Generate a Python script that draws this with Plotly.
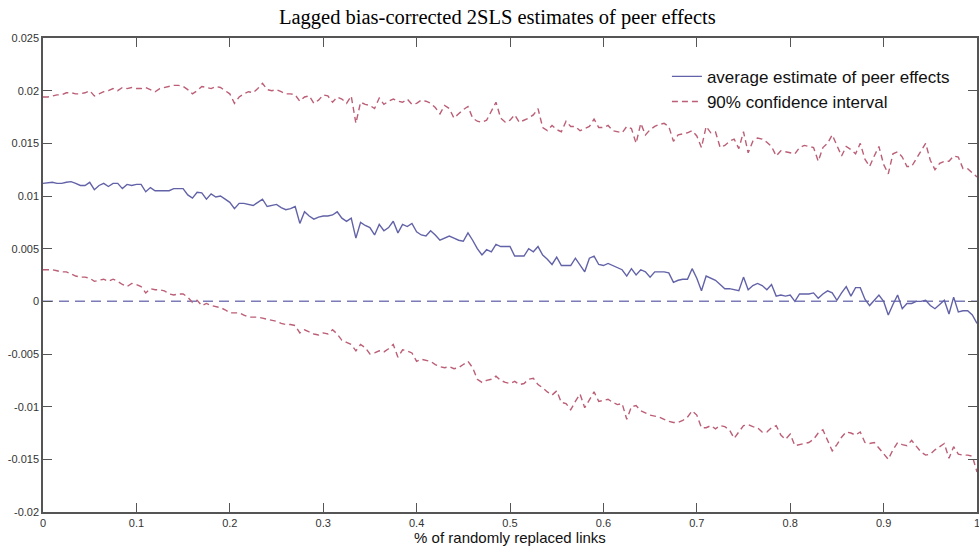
import numpy as np
import plotly.graph_objects as go

# x grid: share of randomly replaced links (0 to 1, step 0.005)
x_share = [round(0.005 * i, 3) for i in range(201)]

avg_estimate = [
    0.0112, 0.01124, 0.0113, 0.0112, 0.0112, 0.0113, 0.01136, 0.0112, 0.0110, 0.0110,
    0.0113, 0.0106, 0.0110, 0.0112, 0.0109, 0.0112, 0.0112, 0.0107, 0.0111, 0.0110,
    0.0111, 0.0111, 0.0104, 0.0108, 0.0105, 0.0105, 0.0105, 0.0105, 0.0107, 0.0107,
    0.0107, 0.0101, 0.0098, 0.01035, 0.0103, 0.0097, 0.0102, 0.0099, 0.0100, 0.0097,
    0.0094, 0.0088, 0.0093, 0.0093, 0.0092, 0.0091, 0.0094, 0.0097, 0.0090, 0.0091,
    0.0092, 0.0089, 0.0087, 0.0088, 0.0090, 0.0074, 0.0085, 0.0081, 0.0078, 0.0080,
    0.0081, 0.0081, 0.0082, 0.0085, 0.0079, 0.0076, 0.0079, 0.0060, 0.0075, 0.0072,
    0.0070, 0.0063, 0.0073, 0.0067, 0.0070, 0.0076, 0.0065, 0.0073, 0.0071, 0.0074,
    0.0066, 0.0063, 0.0062, 0.0067, 0.0063, 0.0058, 0.0060, 0.0062, 0.0060, 0.0058,
    0.0057, 0.0065, 0.0058, 0.0050, 0.0044, 0.0049, 0.0047, 0.0054, 0.0052, 0.0052,
    0.0052, 0.0043, 0.0043, 0.0043, 0.0050, 0.0047, 0.0052, 0.0044, 0.0040, 0.0035,
    0.0042, 0.0034, 0.0034, 0.0034, 0.0041, 0.0034, 0.0028, 0.0041, 0.0043, 0.0035,
    0.0034, 0.0036, 0.0034, 0.0032, 0.0030, 0.0024, 0.0031, 0.0025, 0.0030, 0.0028,
    0.0023, 0.0028, 0.0028, 0.0028, 0.0027, 0.0018, 0.0020, 0.0021, 0.0021, 0.0031,
    0.0022, 0.0010, 0.0024, 0.0022, 0.0020, 0.0016, 0.0012, 0.0012, 0.0011, 0.0010,
    0.0023, 0.0011, 0.0015, 0.0017, 0.0015, 0.0011, 0.0016, 0.0005, 0.0006, 0.0005,
    0.0006, 0.0000, 0.0007, 0.0007, 0.0007, 0.0008, 0.0003, 0.0007, 0.0010, 0.0008,
    0.0001, 0.0008, 0.0014, 0.0005, 0.0013, 0.0013, 0.0002, -0.0004, 0.0001, 0.0006,
    0.0000, -0.0013, -0.0003, 0.0006, -0.0007, -0.0002, -0.0002, 0.0000, 0.0000, 0.0001,
    -0.0004, -0.0007, -0.0003, 0.0001, -0.0012, 0.0004, -0.0010, -0.0009, -0.0009, -0.0013,
    -0.0021,
]

ci_upper = [
    0.0194, 0.0194, 0.0195, 0.0196, 0.0196, 0.0198, 0.0198, 0.0197, 0.0197, 0.0198,
    0.0200, 0.0195, 0.0197, 0.0199, 0.0200, 0.0202, 0.0200, 0.0203, 0.0202, 0.0203,
    0.0202, 0.0202, 0.0203, 0.0201, 0.0199, 0.0202, 0.0203, 0.0204, 0.0205, 0.0205,
    0.0204, 0.0201, 0.0197, 0.0200, 0.0204, 0.0203, 0.0202, 0.0204, 0.0203, 0.0200,
    0.0197, 0.0188, 0.0194, 0.0197, 0.0199, 0.0198, 0.0202, 0.0207, 0.0201, 0.0200,
    0.0201, 0.0199, 0.0197, 0.0197, 0.0196, 0.0190, 0.0194, 0.0195, 0.0188, 0.0191,
    0.0196, 0.0195, 0.0189, 0.0194, 0.0192, 0.0188, 0.0195, 0.0169, 0.0189, 0.0187,
    0.0186, 0.0183, 0.0193, 0.0187, 0.0190, 0.0192, 0.0190, 0.0189, 0.0192, 0.0187,
    0.0188, 0.0191, 0.0190, 0.0188, 0.0184, 0.0178, 0.0186, 0.0183, 0.0174, 0.0178,
    0.0182, 0.0185, 0.0174, 0.0171, 0.0170, 0.0172, 0.0180, 0.0189, 0.0174, 0.0170,
    0.0172, 0.0177, 0.0170, 0.0172, 0.0174, 0.0177, 0.0183, 0.0165, 0.0162, 0.0167,
    0.0163, 0.0161, 0.0171, 0.0166, 0.0166, 0.0162, 0.0164, 0.0166, 0.0173, 0.0165,
    0.0165, 0.0167, 0.0162, 0.0161, 0.0160, 0.0166, 0.0164, 0.0150, 0.0169, 0.0158,
    0.0163, 0.0166, 0.0168, 0.0169, 0.0166, 0.0152, 0.0158, 0.0159, 0.0160, 0.0162,
    0.0157, 0.0146, 0.0166, 0.0160, 0.0161, 0.0146, 0.0148, 0.0152, 0.0154, 0.0145,
    0.0161, 0.0141, 0.0152, 0.0155, 0.0154, 0.0151, 0.0147, 0.0138, 0.0143, 0.0142,
    0.0141, 0.0140, 0.0146, 0.0148, 0.0147, 0.0146, 0.0133, 0.0146, 0.0150, 0.0158,
    0.0148, 0.0138, 0.0147, 0.0144, 0.0140, 0.0150, 0.0135, 0.0128, 0.0138, 0.0147,
    0.0130, 0.0121, 0.0140, 0.0142, 0.0137, 0.0128, 0.0128, 0.0135, 0.0142, 0.0150,
    0.0134, 0.0125, 0.0131, 0.0133, 0.0133, 0.0138, 0.0137, 0.0126, 0.0126, 0.0122,
    0.0118,
]

ci_lower = [
    0.0030, 0.0030, 0.0030, 0.0029, 0.0028, 0.0028, 0.0026, 0.0024, 0.0023, 0.0023,
    0.0022, 0.0019, 0.0020, 0.0021, 0.0019, 0.0021, 0.0019, 0.0016, 0.0014, 0.0017,
    0.0016, 0.0014, 0.0008, 0.0012, 0.0011, 0.0011, 0.0010, 0.0007, 0.0006, 0.0007,
    0.0007, 0.0004, -0.0001, 0.0001, -0.0004, -0.0002, -0.0004, -0.0005, -0.0006, -0.0008,
    -0.0011, -0.0011, -0.0011, -0.0013, -0.0015, -0.0015, -0.0015, -0.0016, -0.0017, -0.0018,
    -0.0019, -0.0021, -0.0022, -0.0022, -0.0023, -0.0030, -0.0027, -0.0029, -0.0031, -0.0032,
    -0.0030, -0.0031, -0.0027, -0.0031, -0.0037, -0.0039, -0.0041, -0.0047, -0.0041, -0.0044,
    -0.0050, -0.0049, -0.0047, -0.0048, -0.0045, -0.0041, -0.0053, -0.0046, -0.0047, -0.0049,
    -0.0057, -0.0055, -0.0056, -0.0057, -0.0060, -0.0062, -0.0063, -0.0062, -0.0064, -0.0063,
    -0.0060, -0.0057, -0.0063, -0.0074, -0.0077, -0.0075, -0.0074, -0.0071, -0.0075, -0.0077,
    -0.0078, -0.0076, -0.0079, -0.0078, -0.0074, -0.0073, -0.0079, -0.0082, -0.0086, -0.0089,
    -0.0085, -0.0096, -0.0097, -0.0103, -0.0095, -0.0088, -0.0101, -0.0094, -0.0086, -0.0095,
    -0.0094, -0.0093, -0.0096, -0.0098, -0.0097, -0.0112, -0.0100, -0.0099, -0.0104, -0.0106,
    -0.0108, -0.0109, -0.0110, -0.0112, -0.0114, -0.0115, -0.0115, -0.0113, -0.0110, -0.0104,
    -0.0108, -0.0120, -0.0120, -0.0118, -0.0121, -0.0118, -0.0119, -0.0122, -0.0130, -0.0124,
    -0.0118, -0.0117, -0.0119, -0.0120, -0.0124, -0.0124, -0.0120, -0.0118, -0.0127, -0.0131,
    -0.0126, -0.0137, -0.0136, -0.0135, -0.0134, -0.0131, -0.0125, -0.0122, -0.0132, -0.0142,
    -0.0136, -0.0129, -0.0124, -0.0125, -0.0127, -0.0124, -0.0134, -0.0135, -0.0134, -0.0139,
    -0.0144, -0.0150, -0.0141, -0.0134, -0.0136, -0.0137, -0.0132, -0.0138, -0.0143, -0.0146,
    -0.0145, -0.0141, -0.0138, -0.0135, -0.0149, -0.0138, -0.0145, -0.0146, -0.0146, -0.0147,
    -0.0162,
]

x_tickvals = [0, 0.1, 0.2, 0.3, 0.4, 0.5, 0.6, 0.7, 0.8, 0.9, 1]
x_ticktext = ["0", "0.1", "0.2", "0.3", "0.4", "0.5", "0.6", "0.7", "0.8", "0.9", "1"]
y_tickvals = [0.025, 0.02, 0.015, 0.01, 0.005, 0, -0.005, -0.01, -0.015, -0.02]
y_ticktext = ["0.025", "0.02", "0.015", "0.01", "0.005", "0", "-0.005", "-0.01", "-0.015", "-0.02"]

BLUE = "#6262a8"
RED = "#bb5e76"
ZERO = "#7b7bb8"
AXIS = "#555555"

fig = go.Figure()
fig.add_hline(y=0, line=dict(color=ZERO, width=1.5, dash="10px,6px"), layer="below")
fig.add_trace(go.Scatter(x=x_share, y=avg_estimate, mode="lines",
                         name="average estimate of peer effects",
                         line=dict(color=BLUE, width=1.4)))
fig.add_trace(go.Scatter(x=x_share, y=ci_upper, mode="lines",
                         name="90% confidence interval",
                         line=dict(color=RED, width=1.4, dash="6px,4px")))
fig.add_trace(go.Scatter(x=x_share, y=ci_lower, mode="lines",
                         name="90% confidence interval", showlegend=False,
                         line=dict(color=RED, width=1.4, dash="6px,4px")))

axis_common = dict(showgrid=False, zeroline=False, showline=True, linecolor=AXIS,
                   linewidth=1.5, ticks="inside", ticklen=9, tickwidth=1.3,
                   tickcolor=AXIS, mirror="ticks", automargin=False,
                   ticklabeloverflow="allow",
                   tickfont=dict(family="Liberation Sans, Arial", size=11, color="#333333"))

fig.update_layout(
    width=979, height=554, autosize=False,
    margin=dict(l=43, r=2, t=38, b=42, autoexpand=False),
    paper_bgcolor="white", plot_bgcolor="white",
    title=dict(text="Lagged bias-corrected 2SLS estimates of peer effects",
               font=dict(family="Liberation Serif, Times New Roman", size=20.5, color="black"),
               x=0.508, xref="container", xanchor="center",
               y=0.969, yref="container", yanchor="middle"),
    xaxis=dict(range=[0, 1], tickvals=x_tickvals, ticktext=x_ticktext,
               title=dict(text="% of randomly replaced links", standoff=2,
                          font=dict(family="Liberation Sans, Arial", size=15, color="#111111")),
               **axis_common),
    yaxis=dict(range=[-0.02, 0.025], tickvals=y_tickvals, ticktext=y_ticktext,
               **axis_common),
    legend=dict(x=0.668, y=0.956, xanchor="left", yanchor="top",
                bgcolor="rgba(0,0,0,0)", borderwidth=0,
                font=dict(family="Liberation Sans, Arial", size=17, color="#111111"),
                tracegroupgap=0, itemwidth=30),
    showlegend=True,
)

post = ("document.body.style.margin='0';document.body.style.padding='0';"
        "document.body.style.overflow='hidden';"
        "var gd=document.getElementById('{plot_id}');"
        "Plotly.relayout(gd,{width:979,height:554});")

fig.write_html("out.html", config={"responsive": False, "displayModeBar": False},
               post_script=post)
